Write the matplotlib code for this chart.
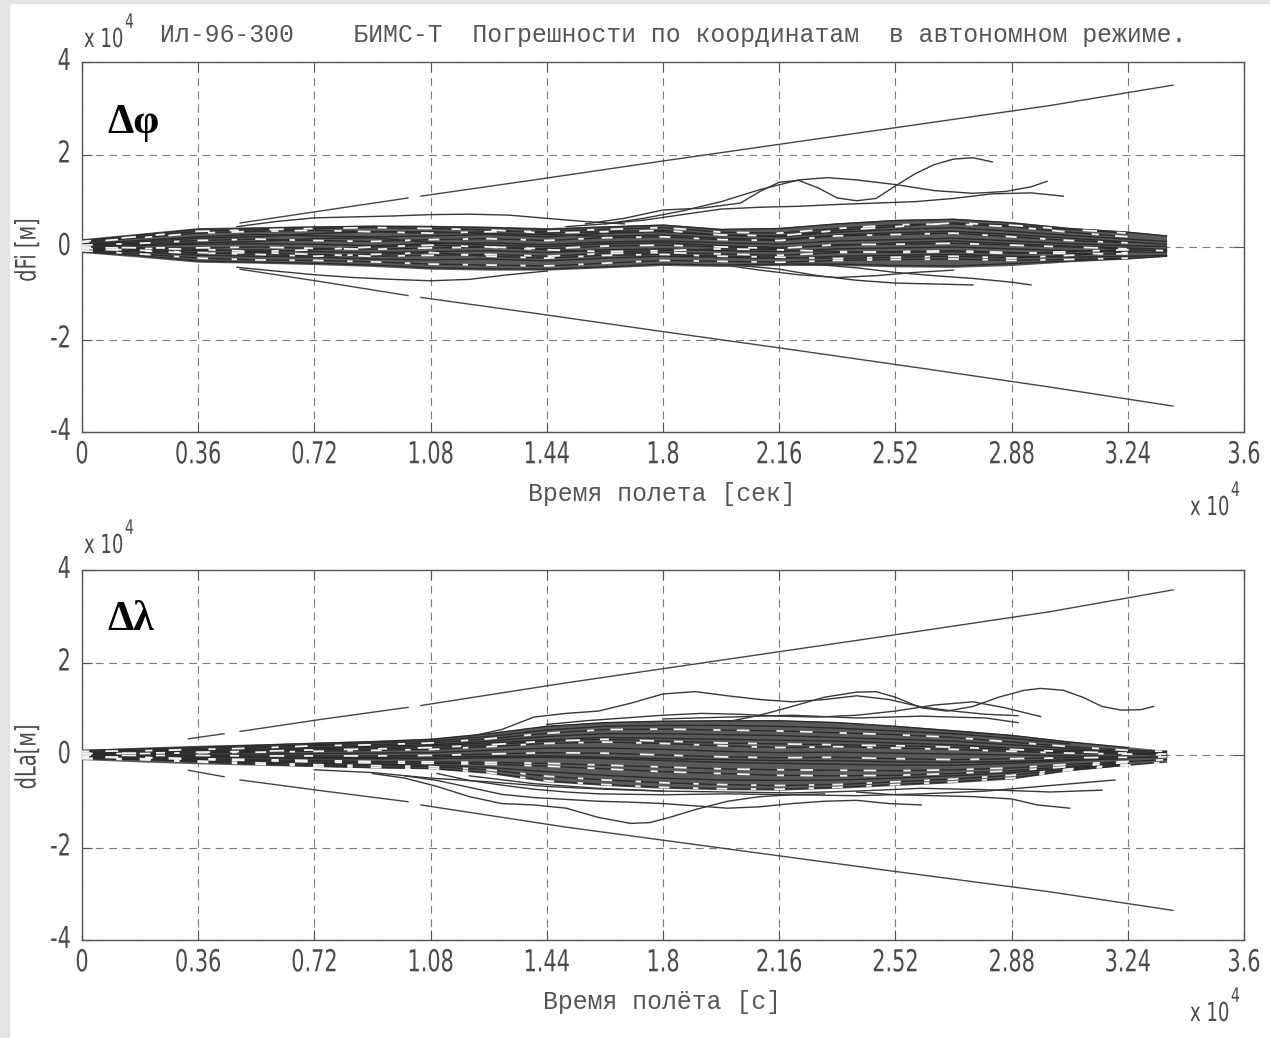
import numpy as np
import matplotlib
matplotlib.use("Agg")
import matplotlib.pyplot as plt
from matplotlib import font_manager, patheffects
from matplotlib.patches import Rectangle
from matplotlib.transforms import Affine2D

W, H = 1270, 1038
nan = np.nan

# time in units of 1e4 s, coordinate errors in units of 1e4 m
T = [0.00, 0.18, 0.36, 0.54, 0.72, 0.90, 1.08, 1.26, 1.44, 1.62,
     1.80, 1.98, 2.16, 2.34, 2.52, 2.70, 2.88, 3.06, 3.24, 3.36]
X_TICKS = [0, 0.36, 0.72, 1.08, 1.44, 1.8, 2.16, 2.52, 2.88, 3.24, 3.6]
X_LABELS = ["0", "0.36", "0.72", "1.08", "1.44", "1.8", "2.16", "2.52", "2.88", "3.24", "3.6"]
Y_TICKS = [-4, -2, 0, 2, 4]
Y_LABELS = ["-4", "-2", "0", "2", "4"]

# ---- dFi (top panel) ----
PHI_BAND_UP = [0.18, 0.30, 0.42, 0.44, 0.46, 0.47, 0.47, 0.45, 0.42, 0.46,
               0.50, 0.40, 0.42, 0.52, 0.60, 0.62, 0.55, 0.42, 0.34, 0.26]
PHI_BAND_LO = [-0.12, -0.22, -0.33, -0.35, -0.38, -0.42, -0.48, -0.50, -0.50, -0.45,
               -0.40, -0.42, -0.40, -0.40, -0.43, -0.44, -0.40, -0.32, -0.26, -0.20]
PHI_01 = [0.14, 0.26, 0.38, 0.40, 0.43, 0.45, 0.44, 0.42, 0.38, 0.43, 0.47, 0.38, 0.40, 0.50, 0.57, 0.60, 0.52, 0.40, 0.32, 0.24]
PHI_02 = [0.10, 0.20, 0.30, 0.34, 0.36, 0.33, 0.30, 0.33, 0.34, 0.38, 0.42, 0.32, 0.30, 0.40, 0.48, 0.50, 0.44, 0.32, 0.22]
PHI_03 = [0.07, 0.14, 0.22, 0.27, 0.24, 0.22, 0.24, 0.27, 0.22, 0.30, 0.33, 0.25, 0.22, 0.32, 0.38, 0.42, 0.34, 0.25, 0.17, 0.12]
PHI_04 = [0.04, 0.08, 0.14, 0.17, 0.14, 0.12, 0.16, 0.18, 0.14, 0.20, 0.22, 0.16, 0.14, 0.24, 0.27, 0.30, 0.22, 0.14, 0.09]
PHI_05 = [0.02, 0.03, 0.06, 0.07, 0.06, 0.03, 0.07, 0.09, 0.05, 0.11, 0.13, 0.09, 0.06, 0.13, 0.16, 0.19, 0.13, 0.07, 0.03, 0.01]
PHI_06 = [0.00, -0.02, -0.02, 0.00, -0.03, -0.05, -0.02, 0.00, -0.04, 0.02, 0.04, 0.00, -0.03, 0.05, 0.06, 0.08, 0.04, 0.00, -0.04]
PHI_07 = [-0.02, -0.05, -0.08, -0.06, -0.10, -0.12, -0.10, -0.08, -0.12, -0.06, -0.04, -0.08, -0.10, -0.04, -0.02, 0.00, -0.04, -0.08, -0.10, -0.12]
PHI_08 = [-0.04, -0.08, -0.14, -0.12, -0.16, -0.20, -0.18, -0.16, -0.20, -0.14, -0.12, -0.15, -0.18, -0.12, -0.10, -0.08, -0.12, -0.14, -0.15]
PHI_09 = [-0.06, -0.11, -0.18, -0.20, -0.22, -0.26, -0.28, -0.26, -0.30, -0.24, -0.20, -0.22, -0.25, -0.20, -0.18, -0.16, -0.20, -0.22, -0.20, -0.18]
PHI_10 = [-0.08, -0.15, -0.24, -0.28, -0.29, -0.32, -0.37, -0.39, -0.41, -0.35, -0.29, -0.31, -0.33, -0.29, -0.27, -0.26, -0.29, -0.27, -0.24]
PHI_11 = [-0.10, -0.19, -0.30, -0.33, -0.35, -0.39, -0.45, -0.47, -0.48, -0.43, -0.37, -0.39, -0.37, -0.37, -0.40, -0.41, -0.36, -0.30, -0.25, -0.20]
PHI_12 = [0.12, 0.23, 0.34, 0.37, 0.40, 0.42, 0.40, 0.37, 0.30, 0.33, 0.36, 0.26, 0.24, 0.36, 0.44, 0.52, 0.47, 0.38, 0.30]
PHI_13 = [0.03, 0.05, 0.09, 0.12, 0.18, 0.20, 0.10, 0.04, 0.01, 0.07, 0.09, 0.03, -0.01, 0.03, 0.09, 0.13, 0.07, 0.02, -0.02, -0.05]
PHI_14 = [-0.01, -0.03, -0.05, -0.10, -0.06, 0.00, 0.04, 0.00, -0.06, -0.10, -0.08, -0.04, -0.06, -0.10, -0.12, -0.10, -0.14, -0.10, -0.06, -0.08]
PHI_15 = [0.06, 0.11, 0.19, 0.22, 0.29, 0.33, 0.33, 0.29, 0.27, 0.23, 0.26, 0.19, 0.16, 0.26, 0.31, 0.34, 0.27, 0.19, 0.11, 0.06]
PHI_16 = [-0.03, -0.07, -0.12, -0.16, -0.20, -0.16, -0.12, -0.20, -0.24, -0.18, -0.16, -0.20, -0.22, -0.25, -0.22, -0.20, -0.24, -0.18, -0.12]

PHI_UP_T = [0.48, 0.60, 0.72, 0.84, 0.96, 1.08, 1.20, 1.32, 1.44, 1.56, 1.68]
PHI_UP_V = [0.44, 0.55, 0.63, 0.65, 0.67, 0.70, 0.71, 0.69, 0.62, 0.55, 0.50]
PHI_DN_T = [0.48, 0.60, 0.72, 0.84, 0.96, 1.08, 1.20, 1.32, 1.44]
PHI_DN_V = [-0.44, -0.52, -0.60, -0.66, -0.70, -0.73, -0.70, -0.60, -0.52]
PHI_A_T = [1.56, 1.68, 1.80, 1.92, 2.04, 2.10, 2.16, 2.22, 2.28, 2.34, 2.40, 2.46, 2.52, 2.58, 2.64, 2.70, 2.76, 2.82]
PHI_A_V = [0.50, 0.62, 0.80, 0.84, 0.95, 1.20, 1.40, 1.44, 1.28, 1.06, 1.00, 1.05, 1.32, 1.58, 1.78, 1.90, 1.93, 1.84]
PHI_B_T = [1.62, 1.74, 1.86, 1.98, 2.10, 2.22, 2.31, 2.40, 2.52, 2.64, 2.76, 2.86, 2.94, 2.99]
PHI_B_V = [0.50, 0.62, 0.78, 0.98, 1.24, 1.45, 1.50, 1.45, 1.35, 1.22, 1.16, 1.20, 1.30, 1.42]
PHI_C_T = [1.50, 1.62, 1.74, 1.86, 1.98, 2.10, 2.22, 2.34, 2.46, 2.58, 2.70, 2.82, 2.94, 3.04]
PHI_C_V = [0.44, 0.50, 0.58, 0.70, 0.82, 0.86, 0.88, 0.92, 0.95, 0.98, 1.05, 1.15, 1.17, 1.10]
PHI_L1_T = [2.04, 2.16, 2.28, 2.40, 2.52, 2.64, 2.76]
PHI_L1_V = [-0.40, -0.48, -0.62, -0.72, -0.78, -0.80, -0.82]
PHI_L2_T = [2.28, 2.40, 2.52, 2.64, 2.76, 2.88, 2.94]
PHI_L2_V = [-0.38, -0.45, -0.55, -0.62, -0.68, -0.76, -0.82]
PHI_L3_T = [1.98, 2.10, 2.22, 2.34, 2.46, 2.58, 2.70]
PHI_L3_V = [-0.38, -0.50, -0.60, -0.66, -0.62, -0.55, -0.50]

PHI_ENV_T = [0.49, 0.75, 1.01, 1.03, 1.05, 1.40, 1.80, 2.20, 2.60, 3.00, 3.38]
PHI_ENV_UP = [0.52, 0.79, 1.06, nan, 1.10, 1.45, 1.86, 2.26, 2.66, 3.06, 3.50]
PHI_ENV_LO = [-0.48, -0.76, -1.05, nan, -1.09, -1.43, -1.83, -2.22, -2.62, -3.03, -3.44]

# ---- dLa (bottom panel) ----
LAM_BAND_UP = [0.12, 0.17, 0.21, 0.24, 0.28, 0.31, 0.36, 0.48, 0.64, 0.72,
               0.75, 0.76, 0.76, 0.72, 0.64, 0.55, 0.45, 0.30, 0.18, 0.10]
LAM_BAND_LO = [-0.10, -0.15, -0.19, -0.22, -0.25, -0.28, -0.30, -0.40, -0.58, -0.66,
               -0.72, -0.75, -0.76, -0.72, -0.66, -0.60, -0.52, -0.34, -0.22, -0.12]
LAM_01 = [0.10, 0.13, 0.17, 0.21, 0.25, 0.29, 0.34, 0.46, 0.62, 0.70, 0.73, 0.74, 0.74, 0.70, 0.62, 0.52, 0.42, 0.28, 0.16]
LAM_02 = [0.08, 0.09, 0.12, 0.15, 0.20, 0.22, 0.26, 0.35, 0.47, 0.55, 0.56, 0.54, 0.52, 0.48, 0.44, 0.38, 0.28, 0.18, 0.10, 0.08]
LAM_03 = [0.05, 0.06, 0.08, 0.10, 0.14, 0.16, 0.20, 0.26, 0.33, 0.38, 0.36, 0.34, 0.32, 0.30, 0.26, 0.22, 0.15, 0.10, 0.06]
LAM_04 = [0.03, 0.03, 0.05, 0.06, 0.08, 0.10, 0.12, 0.18, 0.25, 0.28, 0.25, 0.20, 0.16, 0.18, 0.15, 0.12, 0.08, 0.04, 0.02, 0.00]
LAM_05 = [0.01, 0.01, 0.02, 0.02, 0.03, 0.04, 0.05, 0.10, 0.15, 0.15, 0.12, 0.08, 0.05, 0.06, 0.04, 0.02, 0.00, -0.02, -0.03]
LAM_06 = [0.00, -0.01, -0.01, -0.02, -0.02, -0.02, -0.01, 0.02, 0.05, 0.04, 0.00, -0.04, -0.06, -0.05, -0.08, -0.10, -0.08, -0.06, -0.05, -0.04]
LAM_07 = [-0.02, -0.03, -0.05, -0.06, -0.08, -0.08, -0.08, -0.06, -0.05, -0.08, -0.12, -0.16, -0.18, -0.20, -0.22, -0.22, -0.18, -0.12, -0.08]
LAM_08 = [-0.04, -0.05, -0.08, -0.10, -0.12, -0.14, -0.15, -0.16, -0.18, -0.22, -0.26, -0.30, -0.32, -0.33, -0.34, -0.32, -0.28, -0.20, -0.14, -0.10]
LAM_09 = [-0.06, -0.07, -0.12, -0.15, -0.18, -0.20, -0.22, -0.27, -0.36, -0.44, -0.50, -0.54, -0.55, -0.54, -0.50, -0.45, -0.38, -0.28, -0.18]
LAM_10 = [-0.08, -0.10, -0.15, -0.20, -0.24, -0.27, -0.29, -0.38, -0.56, -0.64, -0.70, -0.73, -0.74, -0.70, -0.64, -0.58, -0.50, -0.33, -0.22, -0.15]
LAM_11 = [0.09, 0.10, 0.14, 0.18, 0.22, 0.26, 0.30, 0.40, 0.54, 0.62, 0.64, 0.64, 0.62, 0.58, 0.52, 0.46, 0.36, 0.24]
LAM_12 = [0.04, 0.04, 0.06, 0.08, 0.11, 0.13, 0.16, 0.22, 0.30, 0.34, 0.30, 0.26, 0.24, 0.22, 0.20, 0.17, 0.12, 0.07, 0.04, 0.02]
LAM_13 = [-0.01, -0.02, -0.03, -0.04, -0.05, -0.05, -0.04, -0.03, -0.02, -0.05, -0.08, -0.10, -0.12, -0.12, -0.15, -0.16, -0.14, -0.10, -0.06, -0.05]
LAM_14 = [-0.05, -0.06, -0.10, -0.12, -0.15, -0.17, -0.18, -0.20, -0.24, -0.30, -0.36, -0.40, -0.44, -0.45, -0.44, -0.40, -0.34, -0.25, -0.16]
LAM_15 = [0.06, 0.06, 0.10, 0.12, 0.16, 0.19, 0.22, 0.30, 0.40, 0.46, 0.46, 0.44, 0.42, 0.38, 0.34, 0.30, 0.22, 0.14, 0.07, 0.05]
LAM_16 = [-0.07, -0.08, -0.13, -0.17, -0.21, -0.23, -0.25, -0.32, -0.46, -0.54, -0.60, -0.64, -0.66, -0.64, -0.58, -0.52, -0.44, -0.30, -0.20]

LAM_U1_T = [1.20, 1.30, 1.40, 1.50, 1.60, 1.70, 1.80, 1.90, 2.00, 2.10, 2.20, 2.30, 2.40, 2.50, 2.60, 2.70, 2.80, 2.90]
LAM_U1_V = [0.40, 0.55, 0.82, 0.90, 0.95, 1.12, 1.32, 1.37, 1.28, 1.20, 1.15, 1.20, 1.28, 1.20, 1.04, 0.95, 0.88, 0.85]
LAM_U2_T = [2.00, 2.10, 2.20, 2.30, 2.40, 2.46, 2.52, 2.60, 2.68, 2.76, 2.84, 2.92, 2.97, 3.04, 3.10, 3.16, 3.22, 3.28, 3.32]
LAM_U2_V = [0.72, 0.86, 1.05, 1.25, 1.36, 1.37, 1.25, 1.02, 0.95, 1.05, 1.25, 1.40, 1.44, 1.40, 1.25, 1.05, 0.97, 0.98, 1.05]
LAM_U3_T = [1.44, 1.56, 1.68, 1.80, 1.92, 2.04, 2.16, 2.28, 2.40, 2.52, 2.64, 2.76, 2.86, 2.97]
LAM_U3_V = [0.66, 0.74, 0.80, 0.86, 0.90, 0.88, 0.84, 0.82, 0.86, 0.95, 1.08, 1.15, 1.02, 0.83]
LAM_U4_T = [1.80, 2.00, 2.20, 2.40, 2.60, 2.80, 2.90]
LAM_U4_V = [0.78, 0.82, 0.86, 0.80, 0.84, 0.80, 0.70]
LAM_D1_T = [0.90, 1.00, 1.10, 1.20, 1.30, 1.40, 1.50, 1.60, 1.70, 1.76, 1.82, 1.90, 2.00, 2.10, 2.20, 2.30]
LAM_D1_V = [-0.40, -0.50, -0.68, -0.90, -1.05, -1.08, -1.15, -1.35, -1.48, -1.46, -1.35, -1.18, -1.00, -0.90, -0.86, -0.84]
LAM_D2_T = [1.00, 1.10, 1.20, 1.30, 1.40, 1.50, 1.60, 1.70, 1.80, 1.90, 2.00, 2.10, 2.20, 2.30, 2.40, 2.50, 2.60]
LAM_D2_V = [-0.45, -0.55, -0.70, -0.85, -0.92, -0.96, -1.00, -1.02, -1.05, -1.10, -1.15, -1.12, -1.05, -1.00, -0.98, -1.05, -1.08]
LAM_D3_T = [2.40, 2.52, 2.64, 2.76, 2.88, 2.96, 3.06]
LAM_D3_V = [-0.80, -0.86, -0.88, -0.90, -0.95, -1.08, -1.15]
LAM_D4_T = [1.10, 1.20, 1.30, 1.40, 1.50, 1.60, 1.80, 2.00, 2.20, 2.40, 2.60, 2.80, 3.00, 3.20]
LAM_D4_V = [-0.40, -0.55, -0.65, -0.74, -0.80, -0.84, -0.86, -0.84, -0.86, -0.88, -0.84, -0.78, -0.66, -0.54]
LAM_D5_T = [1.20, 1.40, 1.60, 1.80, 2.00, 2.20, 2.40, 2.60, 2.80, 3.00, 3.16]
LAM_D5_V = [-0.45, -0.62, -0.72, -0.78, -0.80, -0.82, -0.78, -0.72, -0.75, -0.80, -0.76]
LAM_D6_T = [0.72, 0.90, 1.08, 1.26, 1.44, 1.62, 1.80]
LAM_D6_V = [-0.32, -0.38, -0.50, -0.58, -0.68, -0.74, -0.78]

LAM_ENV_T = [0.33, 0.44, 0.465, 0.49, 0.75, 1.01, 1.03, 1.05, 1.50, 2.00, 2.50, 3.00, 3.38]
LAM_ENV_UP = [0.35, 0.46, nan, 0.51, 0.78, 1.03, nan, 1.07, 1.56, 2.07, 2.58, 3.10, 3.57]
LAM_ENV_LO = [-0.33, -0.47, nan, -0.54, -0.78, -1.01, nan, -1.08, -1.56, -2.03, -2.50, -2.96, -3.36]

PHI_CORE = [PHI_01, PHI_02, PHI_03, PHI_04, PHI_05, PHI_06, PHI_07, PHI_08,
            PHI_09, PHI_10, PHI_11, PHI_12, PHI_13, PHI_14, PHI_15, PHI_16]
PHI_SIDE = [(PHI_UP_T, PHI_UP_V), (PHI_DN_T, PHI_DN_V), (PHI_A_T, PHI_A_V), (PHI_B_T, PHI_B_V),
            (PHI_C_T, PHI_C_V), (PHI_L1_T, PHI_L1_V), (PHI_L2_T, PHI_L2_V), (PHI_L3_T, PHI_L3_V)]
LAM_CORE = [LAM_01, LAM_02, LAM_03, LAM_04, LAM_05, LAM_06, LAM_07, LAM_08,
            LAM_09, LAM_10, LAM_11, LAM_12, LAM_13, LAM_14, LAM_15, LAM_16]
LAM_SIDE = [(LAM_U1_T, LAM_U1_V), (LAM_U2_T, LAM_U2_V), (LAM_U3_T, LAM_U3_V), (LAM_U4_T, LAM_U4_V),
            (LAM_D1_T, LAM_D1_V), (LAM_D2_T, LAM_D2_V), (LAM_D3_T, LAM_D3_V), (LAM_D4_T, LAM_D4_V),
            (LAM_D5_T, LAM_D5_V), (LAM_D6_T, LAM_D6_V)]

names = {f.name for f in font_manager.fontManager.ttflist}
MONO = "Liberation Mono" if "Liberation Mono" in names else "DejaVu Sans Mono"
SERIF = "Liberation Serif" if "Liberation Serif" in names else "DejaVu Serif"
SANS = "DejaVu Sans"
GREY = "#4a4a4a"
# irregular white gaps seen inside the dense bundle of the scan
GAP_DASHES = [(4, 9, 7, 15), (6, 13, 3, 10), (5, 17, 8, 11)]


class Tall(patheffects.AbstractPathEffect):
    """Stretch glyphs vertically to imitate the old condensed plotter font."""

    def __init__(self, sy):
        super().__init__()
        self.sy = sy

    def draw_path(self, renderer, gc, tpath, affine, rgbFace=None):
        renderer.draw_path(gc, tpath, Affine2D().scale(1.0, self.sy) + affine, rgbFace)


TALL = [Tall(1.45)]

fig = plt.figure(figsize=(W / 100, H / 100), dpi=100, facecolor="white")
fig.add_artist(Rectangle((0, 0), 9 / W, 1, transform=fig.transFigure, color="#e3e3e3", zorder=-5))
fig.add_artist(Rectangle((0, 1 - 3 / H), 1, 3 / H, transform=fig.transFigure, color="#e3e3e3", zorder=-5))


def fpos(x, y):
    return x / W, 1 - y / H


def panel(top_px, band_up, band_lo, core, side, env_t, env_up, env_lo):
    left, bottom = fpos(82, top_px + 370)
    ax = fig.add_axes([left, bottom, 1162 / W, 370 / H])
    ax.fill_between(T, band_lo, band_up, color="#5a5a5a", lw=0, zorder=2)
    for v in core:
        ax.plot(T[:len(v)], v, color="#2c2c2c", lw=1.0, zorder=3)
    for i, v in enumerate(core[1::2]):
        ax.plot(T[:len(v)], v, color="#f2f2f2", lw=1.3, dashes=GAP_DASHES[i % 3],
                dash_capstyle="butt", zorder=4)
    for t, v in side:
        ax.plot(t, v, color="#383838", lw=1.0, zorder=3)
    ax.plot(env_t, env_up, color="#454545", lw=1.0, zorder=3)
    ax.plot(env_t, env_lo, color="#454545", lw=1.0, zorder=3)
    ax.set_xlim(0, 3.6)
    ax.set_ylim(-4, 4)
    ax.set_xticks(X_TICKS)
    ax.set_xticklabels(X_LABELS, family=SANS, fontsize=15, color=GREY)
    ax.set_yticks(Y_TICKS)
    ax.set_yticklabels(Y_LABELS, family=SANS, fontsize=15, color=GREY)
    for lbl in ax.get_xticklabels() + ax.get_yticklabels():
        lbl.set_path_effects(TALL)
    ax.tick_params(direction="in", length=7, width=0.8, color="#555555",
                   top=True, right=True)
    ax.tick_params(axis="x", pad=11)
    ax.tick_params(axis="y", pad=8)
    ax.grid(True, linestyle=(0, (7, 5)), color="#7a7a7a", linewidth=0.8)
    ax.set_axisbelow(True)
    for s in ax.spines.values():
        s.set_color("#555555")
        s.set_linewidth(1.0)
    return ax


ax1 = panel(62, PHI_BAND_UP, PHI_BAND_LO, PHI_CORE, PHI_SIDE, PHI_ENV_T, PHI_ENV_UP, PHI_ENV_LO)
ax2 = panel(570, LAM_BAND_UP, LAM_BAND_LO, LAM_CORE, LAM_SIDE, LAM_ENV_T, LAM_ENV_UP, LAM_ENV_LO)

ax1.text(0.022, 0.835, "Δφ", transform=ax1.transAxes, family=SERIF, weight="bold",
         fontsize=30, va="center", ha="left", color="black")
ax2.text(0.022, 0.865, "Δλ", transform=ax2.transAxes, family=SERIF, weight="bold",
         fontsize=30, va="center", ha="left", color="black")

# titles and axis labels
fig.text(*fpos(160, 35), "Ил-96-300    БИМС-Т  Погрешности по координатам  в автономном режиме.",
         family=MONO, fontsize=17.8, color="#555555", ha="left", va="center")
fig.text(*fpos(662, 494), "Время полета [сек]", family=MONO, fontsize=17.8,
         color="#555555", ha="center", va="center")
fig.text(*fpos(662, 1002), "Время полёта [с]", family=MONO, fontsize=17.8,
         color="#555555", ha="center", va="center")
fig.text(*fpos(30, 250), "dFi [м]", family=SANS, fontsize=14, color=GREY,
         rotation=90, ha="center", va="center", path_effects=TALL)
fig.text(*fpos(30, 757), "dLa[м]", family=SANS, fontsize=14, color=GREY,
         rotation=90, ha="center", va="center", path_effects=TALL)

# scale factors
for x, y in [(84, 47), (84, 553), (1190, 515), (1190, 1021)]:
    fig.text(*fpos(x, y), "x 10", family=SANS, fontsize=13, color=GREY, ha="left",
             va="baseline", path_effects=TALL)
    fig.text(*fpos(x + 41, y - 19), "4", family=SANS, fontsize=10, color=GREY,
             ha="left", va="baseline", path_effects=TALL)

fig.savefig("out.png", dpi=100, facecolor=fig.get_facecolor())
